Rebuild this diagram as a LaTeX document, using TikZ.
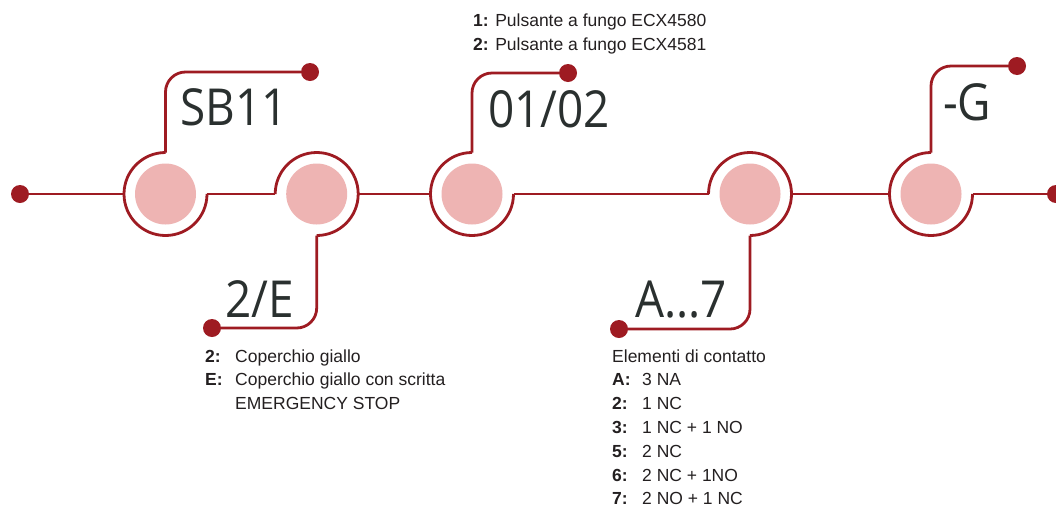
\documentclass[tikz,border=0pt]{standalone}
\usepackage{fontspec}
\setmainfont{Liberation Sans}
\newfontfamily\codefont{Open Sans}[FakeStretch=0.9]
\usetikzlibrary{calc}
\definecolor{WireRed}{RGB}{158,27,34}
\definecolor{KnobPink}{RGB}{238,180,179}
\definecolor{CodeGrey}{RGB}{42,48,47}
\definecolor{TextGrey}{RGB}{35,31,32}

\begin{document}
\begin{tikzpicture}[x=1pt,y=1pt,
wire/.style={draw=WireRed,line width=2.8pt},
knob/.style={circle,fill=white,minimum size=83pt,inner sep=0pt,outer sep=0pt,path picture={\fill[KnobPink] (path picture bounding box.center) circle (30.5pt);}},
dot/.style={circle,fill=WireRed,minimum size=18pt,inner sep=0pt},
code/.style={anchor=base west,inner sep=0pt,font=\codefont\fontsize{51}{51}\selectfont,text=CodeGrey},
note/.style={anchor=base west,inner sep=0pt,font=\fontsize{17.5}{23.8}\selectfont,text=TextGrey}
]
\useasboundingbox (0,0) rectangle (1056,-507);
\node[knob] (b1) at (165.5,-194) {};
\node[knob] (b2) at (316.7,-194) {};
\node[knob] (b3) at (472,-194) {};
\node[knob] (b4) at (750,-194) {};
\node[knob] (b5) at (931,-194) {};
\node[dot] (d0) at (20,-194) {};
\node[dot] (d1) at (310,-72) {};
\node[dot] (d2) at (212,-328) {};
\node[dot] (d3) at (568,-73) {};
\node[dot] (d4) at (619,-329) {};
\node[dot] (d5) at (1017,-66) {};
\node[dot] (d6) at (1056,-194) {};
\draw[wire] (b1.north) arc[start angle=90,end angle=360,radius=41.5];
\draw[wire] (b2.west) arc[start angle=180,end angle=-90,radius=41.5];
\draw[wire] (b3.north) arc[start angle=90,end angle=360,radius=41.5];
\draw[wire] (b4.west) arc[start angle=180,end angle=-90,radius=41.5];
\draw[wire] (b5.north) arc[start angle=90,end angle=360,radius=41.5];
\draw[wire] (d0) -- (b1.west);
\draw[wire] (b1.east) -- (b2.west);
\draw[wire] (b2.east) -- (b3.west);
\draw[wire] (b3.east) -- (b4.west);
\draw[wire] (b4.east) -- (b5.west);
\draw[wire] (b5.east) -- (d6);
\draw[wire,rounded corners=20pt] (b1.north) |- (d1);
\draw[wire,rounded corners=20pt] (b2.south) |- (d2);
\draw[wire,rounded corners=20pt] (b3.north) |- (d3);
\draw[wire,rounded corners=20pt] (b4.south) |- (d4);
\draw[wire,rounded corners=20pt] (b5.north) |- (d5);
\node[code] (t1) at (180,-125) {SB11};
\node[code] (t2) at (225,-317) {2/E};
\node[code] (t3) at (488,-127) {01/02};
\node[code] (t4) at (635,-317) {A...7};
\node[code] (t5) at (943,-120) {-G};
\node[note] (n1) at (473,-26.7) {\begin{tabular}[t]{@{}l@{}}\textbf{1:} Pulsante a fungo ECX4580\\ \textbf{2:} Pulsante a fungo ECX4581\end{tabular}};
\node[note] (n2) at (205,-362) {\begin{tabular}[t]{@{}p{30pt}@{}l@{}}\textbf{2:} & Coperchio giallo\\ \textbf{E:} & Coperchio giallo con scritta\\ & EMERGENCY STOP\end{tabular}};
\node[note] (n3) at (612,-362) {\begin{tabular}[t]{@{}p{30pt}@{}l@{}}\multicolumn{2}{@{}l@{}}{Elementi di contatto}\\ \textbf{A:} & 3 NA\\ \textbf{2:} & 1 NC\\ \textbf{3:} & 1 NC + 1 NO\\ \textbf{5:} & 2 NC\\ \textbf{6:} & 2 NC + 1NO\\ \textbf{7:} & 2 NO + 1 NC\end{tabular}};
\end{tikzpicture}
\end{document}
